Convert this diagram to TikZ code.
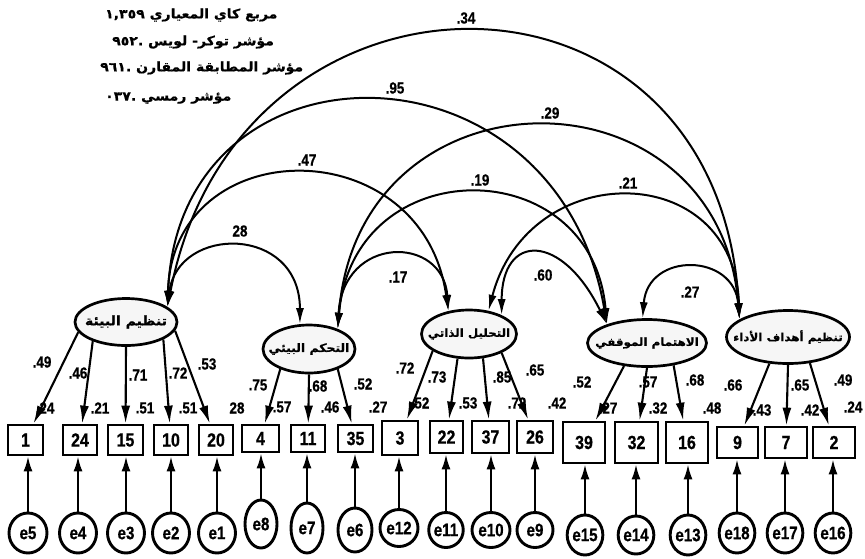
\documentclass[tikz,border=0pt]{standalone}
\usepackage{fontspec}
\setmainfont{Liberation Sans}
\newfontfamily\numfont[FakeStretch=0.84,BoldFeatures={FakeBold=0.7}]{Liberation Sans}
\newfontfamily\arabicfont[Script=Arabic,BoldFeatures={FakeStretch=1.08,FakeBold=0.6}]{DejaVu Sans}
\TeXXeTstate=1
\usetikzlibrary{arrows.meta,shapes.geometric}

\tikzset{
  latent/.style={ellipse,draw,line width=2.7pt,fill=gray!7,inner sep=0pt},
  latlabel/.style={inner sep=0pt,font=\arabicfont\bfseries\fontsize{#1}{14}\selectfont},
  obs/.style={rectangle,draw,line width=2.7pt,fill=white,inner sep=0pt,
    font=\numfont\bfseries\fontsize{19}{20}\selectfont},
  err/.style={ellipse,draw,line width=2.9pt,fill=white,inner sep=0pt,
    font=\numfont\bfseries\fontsize{18}{20}\selectfont},
  load/.style={line width=2.1pt,-{Latex[length=18pt,width=9pt]}},
  eload/.style={line width=2.1pt,-{Latex[length=15pt,width=9pt]}},
  cov/.style={line width=2pt,{Latex[length=16pt,width=8pt]}-{Latex[length=16pt,width=8pt]}},
  coef/.style={inner sep=0pt,font=\numfont\bfseries\fontsize{16}{17}\selectfont},
  fitline/.style={inner sep=0pt,anchor=west,font=\arabicfont\bfseries\fontsize{13}{15}\selectfont},
}

\begin{document}
\begin{tikzpicture}[x=1pt,y=-1pt]
\useasboundingbox (0,0) rectangle (865,558);

% fit indices
\node[fitline] (fit1) at (105,15) {\beginR مربع كاي المعياري \beginL١,٣٥٩\endL\endR};
\node[fitline] (fit2) at (112,42) {\beginR مؤشر توكر- لويس .\beginL٩٥٢\endL\endR};
\node[fitline] (fit3) at (100,68) {\beginR مؤشر المطابقة المقارن .\beginL٩٦١\endL\endR};
\node[fitline] (fit4) at (105,98) {\beginR مؤشر رمسي .\beginL٠٣٧\endL\endR};

% latent factors
\node[latent,minimum width=102pt,minimum height=47pt] (F1) at (126,322) {};
\node[latent,minimum width=92pt,minimum height=48pt] (F2) at (309,349) {};
\node[latent,minimum width=95pt,minimum height=48pt] (F3) at (469,334) {};
\node[latent,minimum width=119pt,minimum height=47pt] (F4) at (647,343) {};
\node[latent,minimum width=123pt,minimum height=53pt] (F5) at (788,337) {};
\node[latlabel=13] (T1) at (F1) {\beginR تنظيم البيئة\endR};
\node[latlabel=11.5] (T2) at (F2) {\beginR التحكم البيئي\endR};
\node[latlabel=11] (T3) at (F3) {\beginR التحليل الذاتي\endR};
\node[latlabel=11] (T4) at (F4) {\beginR الاهتمام الموقفي\endR};
\node[latlabel=11] (T5) at (F5) {\beginR تنظيم أهداف الأداء\endR};

% observed items
\node[obs,minimum width=35pt,minimum height=30pt] (v1)  at (25.5,440) {1};
\node[obs,minimum width=34pt,minimum height=30pt] (v24) at (80,440) {24};
\node[obs,minimum width=35pt,minimum height=30pt] (v15) at (125.5,440) {15};
\node[obs,minimum width=34pt,minimum height=30pt] (v10) at (171,440) {10};
\node[obs,minimum width=34pt,minimum height=30pt] (v20) at (216,440) {20};
\node[obs,minimum width=37pt,minimum height=27pt] (v4)  at (260.5,438.5) {4};
\node[obs,minimum width=34pt,minimum height=27pt] (v11) at (308,438.5) {11};
\node[obs,minimum width=35pt,minimum height=27pt] (v35) at (355.5,438.5) {35};
\node[obs,minimum width=36pt,minimum height=34pt] (v3)  at (400,438) {3};
\node[obs,minimum width=33pt,minimum height=32pt] (v22) at (446.5,437) {22};
\node[obs,minimum width=37pt,minimum height=32pt] (v37) at (490.5,437) {37};
\node[obs,minimum width=36pt,minimum height=32pt] (v26) at (535,437) {26};
\node[obs,minimum width=42pt,minimum height=41pt] (v39) at (584,442.5) {39};
\node[obs,minimum width=43pt,minimum height=41pt] (v32) at (636.5,442.5) {32};
\node[obs,minimum width=42pt,minimum height=41pt] (v16) at (687,442.5) {16};
\node[obs,minimum width=41pt,minimum height=31pt] (v9)  at (737.5,442.5) {9};
\node[obs,minimum width=42pt,minimum height=31pt] (v7)  at (786,442.5) {7};
\node[obs,minimum width=42pt,minimum height=31pt] (v2)  at (834,442.5) {2};

% error terms
\node[err,minimum width=38pt,minimum height=40pt] (e5)  at (28,533) {e5};
\node[err,minimum width=37pt,minimum height=40pt] (e4)  at (78,533) {e4};
\node[err,minimum width=37pt,minimum height=40pt] (e3)  at (126,533) {e3};
\node[err,minimum width=37pt,minimum height=40pt] (e2)  at (171,533) {e2};
\node[err,minimum width=37pt,minimum height=40pt] (e1)  at (217,533) {e1};
\node[err,minimum width=32pt,minimum height=48pt] (e8)  at (261,524) {e8};
\node[err,minimum width=32pt,minimum height=50pt] (e7)  at (307,528) {e7};
\node[err,minimum width=34pt,minimum height=44pt] (e6)  at (355,530) {e6};
\node[err,minimum width=38pt,minimum height=37pt] (e12) at (399,528) {e12};
\node[err,minimum width=34pt,minimum height=35pt] (e11) at (446,530) {e11};
\node[err,minimum width=38pt,minimum height=35pt] (e10) at (491,530) {e10};
\node[err,minimum width=36pt,minimum height=35pt] (e9)  at (535,530) {e9};
\node[err,minimum width=34pt,minimum height=40pt] (e15) at (585,535) {e15};
\node[err,minimum width=33pt,minimum height=38pt] (e14) at (636,535) {e14};
\node[err,minimum width=33pt,minimum height=40pt] (e13) at (688,535) {e13};
\node[err,minimum width=33pt,minimum height=40pt] (e18) at (737,533) {e18};
\node[err,minimum width=34pt,minimum height=40pt] (e17) at (785,533) {e17};
\node[err,minimum width=33pt,minimum height=40pt] (e16) at (833,533) {e16};

% error paths
\foreach \e/\v in {e5/v1,e4/v24,e3/v15,e2/v10,e1/v20,e8/v4,e7/v11,e6/v35,e12/v3,
                   e11/v22,e10/v37,e9/v26,e15/v39,e14/v32,e13/v16,e18/v9,e17/v7,e16/v2}
  \draw[eload] (\e.north) -- (\e.north |- \v.south);

% factor loadings
\draw[load] (F1.192) -- (v1);
\draw[load] (F1.210) -- (v24);
\draw[load] (F1.south) -- (v15);
\draw[load] (F1.335) -- (v10);
\draw[load] (F1.350) -- (v20);
\draw[load] (F2.215) -- (v4);
\draw[load] (F2.south) -- (v11);
\draw[load] (F2.325) -- (v35);
\draw[load] (F3.205) -- (v3);
\draw[load] (F3.245) -- (v22);
\draw[load] (F3.300) -- (v37);
\draw[load] (F3.330) -- (v26);
\draw[load] (F4.225) -- (v39);
\draw[load] (F4.south) -- (v32);
\draw[load] (F4.320) -- (v16);
\draw[load] (F5.235) -- (v9);
\draw[load] (F5.south) -- (v7);
\draw[load] (F5.310) -- (v2);

% factor covariances
\draw[cov] (F1.20) .. controls +(70,-367.5) and +(-20,-380.5) .. (F5.160);
\draw[cov] (F1.20) .. controls +(10,-276.3) and +(-50,-294.3) .. (F4.155);
\draw[cov] (F2.35) .. controls +(20,-267.7) and +(-20,-257.7) .. (F5.160);
\draw[cov] (F1.20) .. controls +(5,-176.9) and +(-25,-181.9) .. (F3.132);
\draw[cov] (F2.35) .. controls +(15,-179.2) and +(-15,-174.2) .. (F4.155);
\draw[cov] (F3.50) .. controls +(40,-153.3) and +(-5,-161.3) .. (F5.160);
\draw[cov] (F1.20) .. controls +(10,-81.7) and +(0,-99.7) .. (F2.110);
\draw[cov] (F2.35) .. controls +(5,-94.3) and +(-5,-76.3) .. (F3.132);
\draw[cov] (F3.30) .. controls +(0,-82.8) and +(-45,-91.8) .. (F4.155);
\draw[cov] (F4.100) .. controls +(5,-66.7) and +(-5,-66.7) .. (F5.160);

% covariance values
\node[coef] (c1)  at (466,18)  {.34};
\node[coef] (c2)  at (395,88)  {.95};
\node[coef] (c3)  at (550,113) {.29};
\node[coef] (c4)  at (307,160) {.47};
\node[coef] (c5)  at (480,180) {.19};
\node[coef] (c6)  at (628,183) {.21};
\node[coef] (c7)  at (240,231) {28};
\node[coef] (c8)  at (398,277) {.17};
\node[coef] (c9)  at (543,275) {.60};
\node[coef] (c10) at (690,292) {.27};

% standardized loadings
\node[coef] (a1)  at (42,362)  {.49};
\node[coef] (a2)  at (78,373)  {.46};
\node[coef] (a3)  at (138,375) {.71};
\node[coef] (a4)  at (178,373) {.72};
\node[coef] (a5)  at (207,364) {.53};
\node[coef] (a6)  at (258,385) {.75};
\node[coef] (a7)  at (318,386) {.68};
\node[coef] (a8)  at (363,384) {.52};
\node[coef] (a9)  at (405,368) {.72};
\node[coef] (a10) at (437,377) {.73};
\node[coef] (a11) at (502,377) {.85};
\node[coef] (a12) at (535,370) {.65};
\node[coef] (a13) at (582,382) {.52};
\node[coef] (a14) at (648,382) {.57};
\node[coef] (a15) at (695,380) {.68};
\node[coef] (a16) at (733,385) {.66};
\node[coef] (a17) at (800,385) {.65};
\node[coef] (a18) at (843,380) {.49};

% squared multiple correlations
\node[coef] (r1)  at (45,408)  {.24};
\node[coef] (r2)  at (100,408) {.21};
\node[coef] (r3)  at (145,408) {.51};
\node[coef] (r4)  at (188,408) {.51};
\node[coef] (r5)  at (237,408) {28};
\node[coef] (r6)  at (282,407) {.57};
\node[coef] (r7)  at (330,407) {.46};
\node[coef] (r8)  at (378,407) {.27};
\node[coef] (r9)  at (420,403) {.52};
\node[coef] (r10) at (468,403) {.53};
\node[coef] (r11) at (517,403) {.72};
\node[coef] (r12) at (557,403) {.42};
\node[coef] (r13) at (608,408) {.27};
\node[coef] (r14) at (658,408) {.32};
\node[coef] (r15) at (712,408) {.48};
\node[coef] (r16) at (762,410) {.43};
\node[coef] (r17) at (810,410) {.42};
\node[coef] (r18) at (853,407) {.24};
\end{tikzpicture}
\end{document}
